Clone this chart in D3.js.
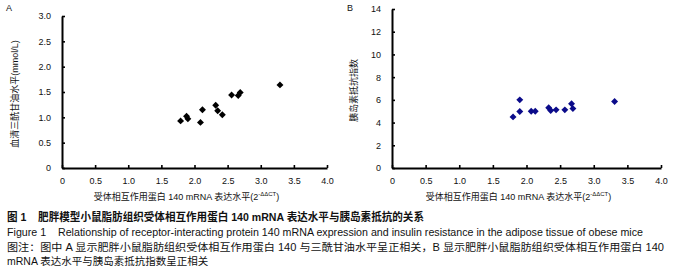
<!DOCTYPE html>
<html>
<head>
<meta charset="utf-8">
<script src="https://cdn.jsdelivr.net/npm/d3@7"></script>
<style>
  body { margin: 0; background: #fff; }
  text { font-family: Arial, "Liberation Sans", "Noto Sans CJK SC", sans-serif; fill: #111; white-space: pre; }
  .cjk { font-family: "Liberation Sans", "Noto Sans CJK SC", sans-serif; }
</style>
</head>
<body>
<script>

// panel A: RIP140 expression vs serum triglyceride
const xA = [1.79, 1.88, 1.90, 2.09, 2.12, 2.32, 2.35, 2.42, 2.56, 2.66, 2.69, 3.29];
const yA = [0.93, 1.02, 0.97, 0.90, 1.15, 1.24, 1.13, 1.05, 1.44, 1.43, 1.49, 1.64];

// panel B: RIP140 expression vs insulin resistance index
const xB = [1.80, 1.90, 1.90, 2.07, 2.13, 2.33, 2.36, 2.44, 2.57, 2.67, 2.69, 3.31];
const yB = [4.5, 6.0, 4.97, 4.99, 5.0, 5.3, 5.07, 5.12, 5.12, 5.65, 5.23, 5.85];

const xTicks = [0, 0.5, 1.0, 1.5, 2.0, 2.5, 3.0, 3.5, 4.0];
const yTicksA = [0, 0.5, 1.0, 1.5, 2.0, 2.5, 3.0];
const yTicksB = [0, 2, 4, 6, 8, 10, 12, 14];

const xTitle = "受体相互作用蛋白 140 mRNA 表达水平(2";
const captions = [
    "图 1    肥胖模型小鼠脂肪组织受体相互作用蛋白 140 mRNA 表达水平与胰岛素抵抗的关系",
    "Figure 1    Relationship of receptor-interacting protein 140 mRNA expression and insulin resistance in the adipose tissue of obese mice",
    "图注：图中 A 显示肥胖小鼠脂肪组织受体相互作用蛋白 140 与三酰甘油水平呈正相关，B 显示肥胖小鼠脂肪组织受体相互作用蛋白 140",
    "mRNA 表达水平与胰岛素抵抗指数呈正相关"
];

const svg = d3.select("body")
    .append("svg")
    .attr("width", 684)
    .attr("height", 278);

const panels = [
    {letter: "A", xs: xA, ys: yA, yMax: 3.0, ticks: yTicksA, fmt: d => d === 0 ? "0" : d.toFixed(1),
     left: 62, right: 327, top: 16, bottom: 168, color: "#000", yTitle: "血清三酰甘油水平(mmol/L)", yTitleX: 15},
    {letter: "B", xs: xB, ys: yB, yMax: 14, ticks: yTicksB, fmt: d => String(d),
     left: 392, right: 661, top: 9, bottom: 168, color: "#0b0b8a", yTitle: "胰岛素抵抗指数", yTitleX: 354}
];

panels.forEach(function (p) {
    const x = d3.scaleLinear().domain([0, 4]).range([p.left, p.right]);
    const y = d3.scaleLinear().domain([0, p.yMax]).range([p.bottom, p.top]);

    const g = svg.append("g");

    // axes, ticks pointing inward
    const xAxis = g.append("g")
        .attr("transform", `translate(0, ${p.bottom})`)
        .call(d3.axisBottom(x).tickValues(xTicks).tickSizeInner(-3).tickSizeOuter(0)
            .tickFormat(d => d === 0 ? "0" : d.toFixed(1)));
    const yAxis = g.append("g")
        .attr("transform", `translate(${p.left}, 0)`)
        .call(d3.axisLeft(y).tickValues(p.ticks).tickSizeInner(-3).tickSizeOuter(0).tickFormat(p.fmt));

    [xAxis, yAxis].forEach(function (a) {
        a.select(".domain").attr("stroke", "#000").attr("stroke-width", 2);
        a.selectAll(".tick line").attr("stroke", "#000").attr("stroke-width", 1.6);
        a.selectAll(".tick text").attr("font-size", 9).attr("fill", "#222")
            .style("font-family", "Arial, 'Liberation Sans', sans-serif");
    });
    xAxis.selectAll(".tick text").attr("y", 10);
    yAxis.selectAll(".tick text").attr("x", -11);

    g.selectAll("path.pt")
        .data(p.xs.map((d, i) => [d, p.ys[i]]))
        .enter().append("path")
        .attr("class", "pt")
        .attr("d", d3.symbol(d3.symbolSquare, 24))
        .attr("transform", d => `translate(${x(d[0])}, ${y(d[1])}) rotate(45)`)
        .attr("fill", p.color);

    // panel letter
    g.append("text")
        .attr("x", p.letter === "A" ? 6 : 347)
        .attr("y", 11)
        .attr("font-size", 9)
        .text(p.letter);

    // x title with superscript
    const xt = g.append("text")
        .attr("class", "cjk")
        .attr("x", (p.left + p.right) / 2 - 8)
        .attr("y", 200)
        .attr("text-anchor", "middle")
        .attr("font-size", 9);
    xt.append("tspan").text(xTitle);
    xt.append("tspan").attr("dy", -4).attr("font-size", 6).text("-ΔΔCT");
    xt.append("tspan").attr("dy", 4).text(")");

    // y title
    g.append("text")
        .attr("class", "cjk")
        .attr("transform", `translate(${p.yTitleX + 3}, ${(p.top + p.bottom) / 2 + 2}) rotate(-90)`)
        .attr("text-anchor", "middle")
        .attr("font-size", 9)
        .text(p.yTitle);
});

// caption block
const capY = [221, 236, 250.5, 265];
const capLen = [417, 636, 657, null];
captions.forEach(function (c, i) {
    const t = svg.append("text")
        .attr("class", "cjk")
        .attr("x", 7)
        .attr("y", capY[i])
        .attr("font-size", i === 0 ? 11 : 10.5)
        .attr("font-weight", i === 0 ? "bold" : "normal")
        .text(c);
    if (capLen[i]) {
        t.attr("textLength", capLen[i]).attr("lengthAdjust", "spacingAndGlyphs");
    }
});

</script>
</body>
</html>
